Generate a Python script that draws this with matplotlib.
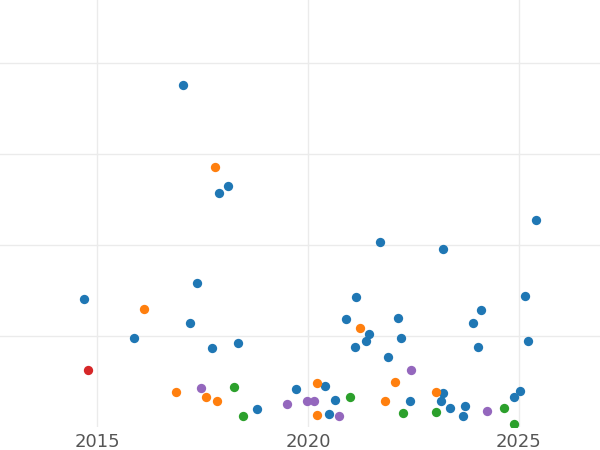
import matplotlib
matplotlib.use("Agg")
import matplotlib.pyplot as plt

blue_x = [2017.04,2014.69,2015.88,2017.37,2017.20,2017.73,2017.89,2018.10,2018.34,2018.79,2019.72,2020.40,2020.50,2020.64,2020.90,2021.11,2021.14,2021.37,2021.45,2021.71,2021.90,2022.13,2022.20,2022.42,2023.15,2023.20,2023.20,2023.36,2023.67,2023.72,2023.91,2024.03,2024.10,2024.88,2025.02,2025.14,2025.21,2025.40]
blue_y = [3.76,1.41,0.98,1.58,1.14,0.87,2.57,2.65,0.92,0.20,0.42,0.45,0.14,0.30,1.19,0.88,1.43,0.95,1.02,2.03,0.77,1.20,0.98,0.29,0.29,0.37,1.95,0.21,0.12,0.23,1.14,0.88,1.29,0.33,0.40,1.44,0.95,2.27]
orange_x = [2017.80,2016.11,2016.87,2017.58,2017.84,2020.21,2020.21,2021.23,2021.82,2022.06,2023.03]
orange_y = [2.86,1.30,0.38,0.33,0.29,0.48,0.13,1.09,0.29,0.49,0.38]
green_x = [2018.46,2018.25,2020.99,2022.25,2023.03,2024.64,2024.88]
green_y = [0.12,0.44,0.33,0.15,0.16,0.21,0.03]
purple_x = [2017.46,2019.50,2019.98,2020.14,2020.73,2022.44,2024.24]
purple_y = [0.43,0.25,0.29,0.29,0.12,0.63,0.18]
red_x = [2014.79]
red_y = [0.63]
x_ticks = [2015, 2020, 2025]

fig = plt.figure(figsize=(6, 4.5), dpi=100)
ax = fig.add_axes([0, 23/450, 1, 427/450])
for xs, ys, c in [(blue_x, blue_y, "#1f77b4"), (orange_x, orange_y, "#ff7f0e"),
                  (green_x, green_y, "#2ca02c"), (purple_x, purple_y, "#9467bd"),
                  (red_x, red_y, "#d62728")]:
    ax.scatter(xs, ys, s=45, color=c, zorder=3, linewidths=0)
ax.set_xlim(2012.70, 2026.92)
ax.set_ylim(0, 4.69)
ax.set_xticks(x_ticks)
ax.set_xticklabels([str(t) for t in x_ticks])
ax.set_yticks([1, 2, 3, 4])
ax.set_yticklabels([])
ax.grid(True, color="#ebebeb", linewidth=1)
ax.tick_params(length=0, labelsize=13, labelcolor="#555555", pad=4)
for s in ax.spines.values():
    s.set_visible(False)
fig.savefig("out.png")
